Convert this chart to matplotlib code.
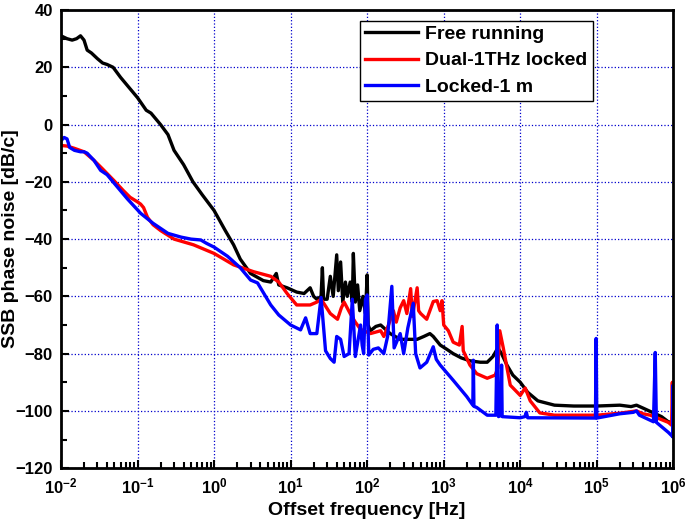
import numpy as np
import matplotlib.pyplot as plt
from matplotlib.ticker import LogLocator, FixedLocator, FuncFormatter

# fuente tipo arial en negrita
plt.rcParams['font.family'] = ['Liberation Sans', 'DejaVu Sans']
plt.rcParams['font.weight'] = 'bold'
plt.rcParams['mathtext.fontset'] = 'custom'
plt.rcParams['mathtext.rm'] = 'Liberation Sans:bold'
plt.rcParams['mathtext.default'] = 'rm'

# datos
f_free = [0.01, 0.012, 0.014, 0.016, 0.018, 0.02, 0.022, 0.025, 0.03, 0.035, 0.04, 0.048,
          0.06, 0.08, 0.1, 0.13, 0.15, 0.2, 0.25, 0.3, 0.4, 0.53, 0.7, 1.0, 1.4, 1.8, 2.2,
          3.0, 4.4, 5.5, 6.5, 7, 9, 12, 15, 18, 20, 22, 25, 26, 27, 30, 33, 36, 40, 42, 45,
          48, 52, 55, 60, 64, 66, 70, 75, 80, 88, 95, 100, 103, 110, 130, 150, 200, 270,
          350, 450, 550, 660, 730, 900, 1100, 1330, 1700, 2200, 3000, 3700, 4400, 5100,
          5700, 6700, 8000, 10000, 12500, 17000, 28000, 50000, 100000, 200000, 280000,
          330000, 400000, 550000, 700000, 860000, 950000, 1000000]
db_free = [31, 30, 29.5, 30, 31, 29.5, 26, 25, 23, 21.5, 21, 20,
           16.5, 12.5, 9.4, 5, 4, 0, -3.5, -9, -14, -20, -24.5, -30, -37, -42, -47,
           -52, -54.5, -55, -52, -56, -57, -58.5, -59, -57, -60, -61, -60, -50, -61, -61,
           -53, -60, -45.5, -58, -48, -62, -55, -60, -55, -62, -45, -62, -56, -65, -60,
           -66, -52.5, -70, -72, -70.5, -70, -73, -75, -75, -75, -74, -73, -74, -77,
           -78.5, -80, -81.5, -82.5, -83, -83, -81, -78, -80, -84, -87.5, -90, -93.5,
           -96.5, -98, -98.3, -98.3, -98, -98.5, -98, -99, -100.7, -102, -103.8, -104, -106]

f_dual = [0.01, 0.012, 0.015, 0.02, 0.027, 0.035, 0.049, 0.065, 0.08, 0.1, 0.11, 0.12,
          0.135, 0.16, 0.2, 0.3, 0.54, 1, 1.8, 3.3, 5.5, 7, 9, 12, 18, 22, 25, 28, 33, 41,
          46, 50, 60, 70, 82, 110, 150, 165, 190, 220, 240, 270, 300, 330, 370, 390, 450,
          470, 500, 600, 730, 820, 900, 950, 1000, 1150, 1330, 1600, 1740, 1800, 2200,
          2700, 3700, 4700, 5100, 5400, 6000, 7400, 10000, 11600, 13500, 18000, 28000,
          100000, 200000, 330000, 400000, 500000, 860000, 950000, 970000, 990000, 1000000]
db_dual = [-7.3, -7.5, -8.3, -9.5, -12.5, -15.5, -19.5, -23, -25.4, -27, -27.8, -29,
           -32.4, -35, -37, -40, -42, -45, -49, -51.4, -53, -55, -59, -63, -63, -62, -61,
           -63, -66, -68, -64, -62, -66, -69, -71.5, -73, -72, -74, -70, -65, -69, -64,
           -61.5, -66, -57.3, -67, -57, -65, -66, -68, -61.8, -61.5, -65, -61.5, -70,
           -72, -76, -77, -70.5, -79, -84, -87, -88.6, -87.5, -85, -72, -78, -91, -94.6,
           -92, -96.5, -100.7, -101.5, -101.5, -100.8, -100, -101, -101.5, -104, -105,
           -90, -106, -107]

f_lock = [0.01, 0.011, 0.012, 0.013, 0.015, 0.018, 0.02, 0.022, 0.027, 0.033, 0.04, 0.05,
          0.074, 0.11, 0.16, 0.25, 0.37, 0.5, 0.67, 0.8, 1, 1.5, 2.2, 3, 3.7, 5.5, 7, 10,
          13.5, 15.7, 18, 22, 25, 28.6, 33, 37, 40, 45, 50, 58, 64, 70, 82, 86, 90, 95,
          100, 105, 120, 140, 165, 185, 210, 225, 270, 300, 340, 400, 430, 490, 600, 730,
          800, 900, 1330, 2000, 2400, 2440, 2480, 2700, 3700, 4800, 5000, 5200, 5600,
          5700, 5800, 10000, 11500, 12000, 12500, 96000, 98000, 100000, 200000, 300000,
          330000, 360000, 550000, 580000, 600000, 860000, 980000, 990000, 1000000]
db_lock = [-5.6, -4.5, -5, -8, -9, -9.5, -9.5, -10, -12.5, -16, -17.5, -20.6,
           -26, -31, -34.5, -38, -39.3, -40, -40.3, -41.5, -42.8, -46, -50, -54.3, -55.3,
           -63, -66.5, -70, -71.7, -67.5, -73, -73, -60.4, -79, -81.7, -83, -74, -75, -81,
           -80, -61, -81, -70, -77, -80, -61, -59.5, -80.5, -78.5, -78, -80, -74, -56.5,
           -78, -73, -80, -71, -62.4, -80, -85, -83, -77.6, -82, -84, -89.3, -95, -98,
           -82.3, -98.4, -98.8, -101.5, -101.5, -70, -102, -101.5, -84, -102, -102.4,
           -102, -100.5, -102.4, -102.5, -74.7, -102.5, -101, -100.5, -100, -101.5,
           -103.8, -79.6, -104, -107.5, -109, -91, -109]

legend_labels = ["Free running", "Dual-1THz locked", "Locked-1 m"]

fig = plt.figure(figsize=(6.85, 5.29), dpi=100)
ax = fig.add_axes([0.089, 0.115, 0.894, 0.866])

ax.plot(f_free, db_free, color='black', lw=2.4, label=legend_labels[0])
ax.plot(f_dual, db_dual, color='#ff0000', lw=2.4, label=legend_labels[1])
ax.plot(f_lock, db_lock, color='#0000ff', lw=2.4, label=legend_labels[2])

ax.set_xscale('log')
ax.set_xlim(1e-2, 1e6)
ax.set_ylim(-120, 40)

# ticks
ax.xaxis.set_major_locator(LogLocator(base=10, numticks=20))
ax.xaxis.set_minor_locator(LogLocator(base=10, subs=np.arange(2, 10), numticks=20))
ax.xaxis.set_major_formatter(FuncFormatter(lambda v, p: r'$10^{%d}$' % round(np.log10(v))))
ax.yaxis.set_major_locator(FixedLocator(np.arange(-120, 41, 20)))
ax.yaxis.set_minor_locator(FixedLocator(np.arange(-110, 40, 20)))

ax.tick_params(which='both', direction='in', top=False, right=False, width=1.5, labelsize=12)
ax.tick_params(which='major', length=6, pad=6)
ax.tick_params(which='minor', length=4)

for s in ax.spines.values():
    s.set_linewidth(2)

ax.grid(which='major', color='#0000cc', linestyle=':', linewidth=0.9)

ax.set_xlabel("Offset frequency [Hz]", fontsize=14, fontweight='bold')
ax.set_ylabel("SSB phase noise [dB/c]", fontsize=14, fontweight='bold')
ax.yaxis.set_label_coords(-0.068, 0.5)

leg = ax.legend(loc='upper right', bbox_to_anchor=(0.868, 0.977), fontsize=14,
                fancybox=False, framealpha=1, edgecolor='black', handlelength=2.7,
                labelspacing=0.45, borderpad=0.25, handletextpad=0.4, borderaxespad=0)
leg.get_frame().set_linewidth(1)
for line in leg.get_lines():
    line.set_linewidth(2.4)

fig.savefig('out.png', dpi=100)
